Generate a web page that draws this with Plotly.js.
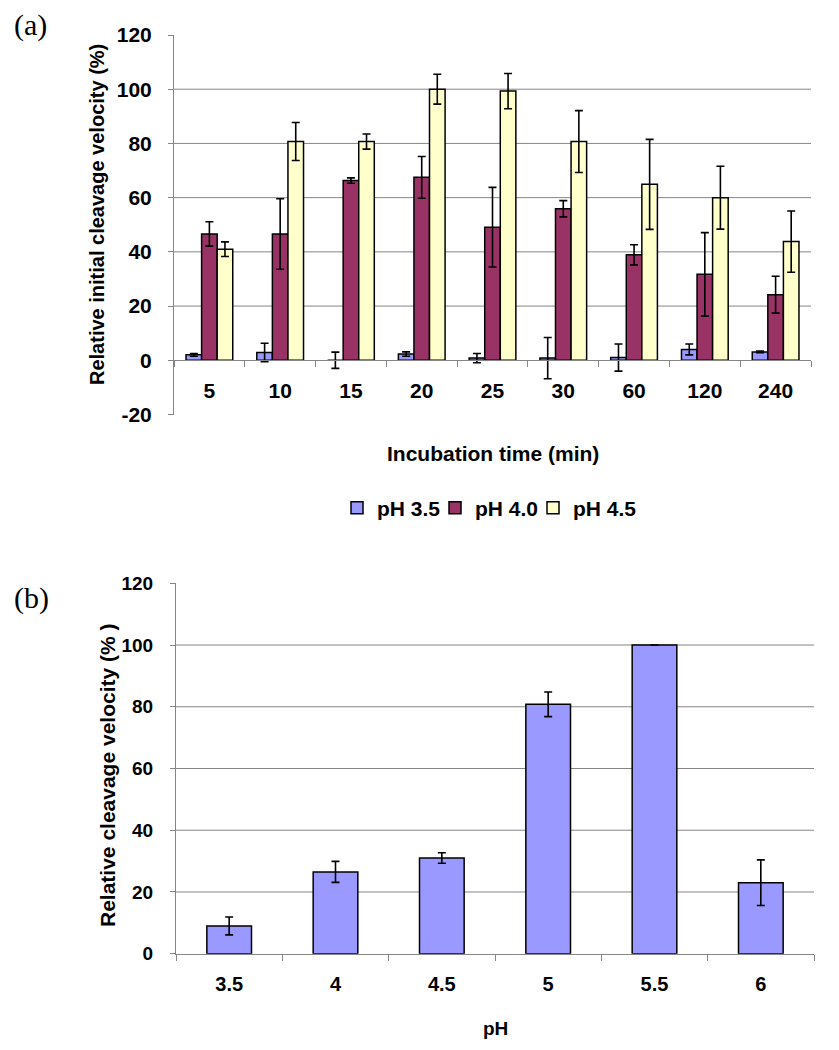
<!DOCTYPE html>
<html>
<head>
<meta charset="utf-8">
<script src="https://cdn.plot.ly/plotly-3.0.1.min.js"></script>
<style>html,body{margin:0;padding:0;background:#fff;}#chart{width:839px;height:1050px;}</style>
</head>
<body>
<div id="chart"></div>
<script>
// ---- Data (a): relative initial cleavage velocity vs incubation time ----
const timeCats = ['5', '10', '15', '20', '25', '30', '60', '120', '240'];
const ph35 = [2.0, 2.9, 0.0, 2.3, 0.8, 0.8, 1.0, 4.0, 3.1];
const ph35Err = [0.5, 3.4, 3.0, 0.8, 1.7, 7.6, 5.0, 2.0, 0.3];
const ph40 = [46.6, 46.6, 66.3, 67.5, 49.1, 55.9, 38.9, 31.7, 24.2];
const ph40Err = [4.5, 13.0, 1.0, 7.7, 14.7, 3.0, 3.7, 15.4, 6.8];
const ph45 = [41.0, 80.7, 80.7, 100.0, 99.3, 80.7, 64.9, 60.0, 43.8];
const ph45Err = [2.7, 7.0, 2.8, 5.5, 6.5, 11.4, 16.6, 11.6, 11.3];
const seriesNames = ['pH 3.5', 'pH 4.0', 'pH 4.5'];
const topTickVals = [-20, 0, 20, 40, 60, 80, 100, 120];
const topTickText = ['-20', '0', '20', '40', '60', '80', '100', '120'];

// ---- Data (b): relative cleavage velocity vs pH ----
const phCats = ['3.5', '4', '4.5', '5', '5.5', '6'];
const phVals = [9.0, 26.5, 31.0, 80.8, 100.0, 23.0];
const phErr = [2.9, 3.4, 1.7, 4.0, 0.0, 7.4];

const gridVals = [20, 40, 60, 80, 100];

// ---- Styling ----
const FONT = 'Liberation Sans, Arial, Helvetica, sans-serif';
const SERIF = 'Liberation Serif, Times New Roman, serif';
const GRAY = '#868686';
const colors = ['#9999FF', '#993366', '#FFFFCC'];
const errStyle = {type: 'data', visible: true, color: '#000', thickness: 1.6, width: 4};
const lineStyle = {color: '#000', width: 1.5};
const legendIds = ['legend', 'legend2', 'legend3'];
const legendLeftPx = [337, 435, 533];

const vals = [ph35, ph40, ph45];
const errs = [ph35Err, ph40Err, ph45Err];

const traces = seriesNames.map((name, i) => ({
  type: 'bar', name: name, x: timeCats, y: vals[i],
  xaxis: 'x', yaxis: 'y', legend: legendIds[i],
  marker: {color: colors[i], line: lineStyle},
  error_y: Object.assign({array: errs[i]}, errStyle)
}));

traces.push({
  type: 'bar', name: 'pH', x: phCats, y: phVals,
  xaxis: 'x2', yaxis: 'y2', showlegend: false, width: 0.42,
  marker: {color: colors[0], line: lineStyle},
  error_y: Object.assign({array: phErr}, errStyle)
});

const W = 839, H = 1050;
const px = v => v / W;
const py = v => 1 - v / H;

// top plot area (pixels): x 174..811, y 35..414.5
const topY0 = py(414.5), topY1 = py(35);
const zeroPos = topY0 + (20 / 140) * (topY1 - topY0);

const bold = (family, size) => ({family: family, size: size, color: '#000', weight: 'bold'});

const shapes = [];
gridVals.forEach(v => {
  shapes.push({type: 'line', xref: 'x domain', yref: 'y', x0: 0, x1: 1, y0: v, y1: v,
    line: {color: GRAY, width: 1}, layer: 'below'});
  shapes.push({type: 'line', xref: 'x2 domain', yref: 'y2', x0: 0, x1: 1, y0: v, y1: v,
    line: {color: GRAY, width: 1}, layer: 'below'});
});

const ann = (text, x, y, font, extra) => Object.assign({
  text: text, xref: 'paper', yref: 'paper', x: px(x), y: py(y),
  xanchor: 'center', yanchor: 'middle', showarrow: false, font: font
}, extra || {});

const legendBox = i => ({
  orientation: 'h', x: px(legendLeftPx[i]), xanchor: 'left', y: py(508), yanchor: 'middle',
  font: bold(FONT, 21), itemwidth: 30, bgcolor: 'rgba(0,0,0,0)', borderwidth: 0
});

const layout = {
  width: W, height: H,
  margin: {l: 0, r: 0, t: 0, b: 0},
  paper_bgcolor: '#fff', plot_bgcolor: 'rgba(0,0,0,0)',
  barmode: 'group', bargap: 0.34, bargroupgap: 0,
  showlegend: true,
  legend: legendBox(0), legend2: legendBox(1), legend3: legendBox(2),
  xaxis: {
    type: 'category', domain: [px(174), px(811)], anchor: 'free', position: zeroPos,
    showline: true, linecolor: GRAY, linewidth: 1, showgrid: false, zeroline: false,
    ticks: 'outside', tickson: 'boundaries', ticklen: 6, tickcolor: GRAY,
    ticklabelstandoff: 12, tickfont: bold(FONT, 21), fixedrange: true
  },
  yaxis: {
    domain: [topY0, topY1], anchor: 'x', range: [-20, 120],
    tickmode: 'array', tickvals: topTickVals, ticktext: topTickText,
    showline: true, linecolor: GRAY, linewidth: 1, showgrid: false, zeroline: false,
    ticks: 'outside', ticklen: 5, tickcolor: GRAY, ticklabelstandoff: 12,
    tickfont: bold(FONT, 21), fixedrange: true
  },
  xaxis2: {
    type: 'category', domain: [px(176), px(814)], anchor: 'y2',
    showline: true, linecolor: GRAY, linewidth: 1, showgrid: false, zeroline: false,
    ticks: 'outside', tickson: 'boundaries', ticklen: 6, tickcolor: GRAY,
    ticklabelstandoff: 12, tickfont: bold(FONT, 20), fixedrange: true
  },
  yaxis2: {
    domain: [py(953.7), py(583.3)], anchor: 'x2', range: [0, 120], dtick: 20, tick0: 0,
    showline: true, linecolor: GRAY, linewidth: 1, showgrid: false, zeroline: false,
    ticks: 'outside', ticklen: 5, tickcolor: GRAY, ticklabelstandoff: 13,
    tickfont: bold(FONT, 19), fixedrange: true
  },
  shapes: shapes,
  annotations: [
    ann('(a)', 12, 25, {family: SERIF, size: 30, color: '#000'}, {xanchor: 'left'}),
    ann('(b)', 12, 598, {family: SERIF, size: 30, color: '#000'}, {xanchor: 'left'}),
    ann('Relative initial cleavage velocity (%)', 97, 215, bold(FONT, 20), {textangle: -90}),
    ann('Incubation time (min)', 493, 453, bold(FONT, 21)),
    ann('Relative cleavage velocity (% )', 107, 775, bold(FONT, 21), {textangle: -90}),
    ann('pH', 495, 1028, bold(FONT, 19))
  ]
};

Plotly.newPlot('chart', traces, layout, {displayModeBar: false, staticPlot: true});
</script>
</body>
</html>
